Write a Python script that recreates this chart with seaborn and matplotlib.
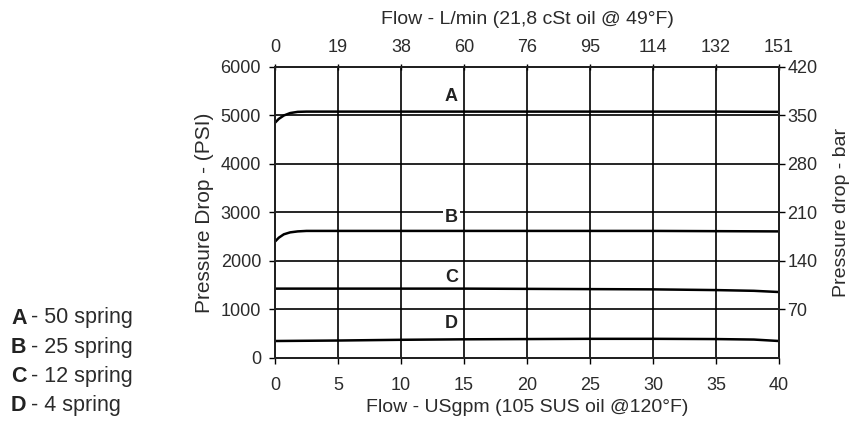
import matplotlib
matplotlib.use("Agg")
import matplotlib.pyplot as plt
import seaborn as sns
import pandas as pd

sns.set_theme(style="white")
plt.rcParams['font.family'] = ['Liberation Sans', 'DejaVu Sans']

# ---- data ----
flow_a = [0, 0.3, 0.7, 1.2, 1.8, 2.5, 5, 10, 15, 20, 25, 30, 35, 40]
psi_a = [4850, 4930, 5000, 5050, 5075, 5080, 5080, 5080, 5080, 5080, 5080, 5080, 5080, 5075]
flow_b = [0, 0.3, 0.7, 1.2, 1.8, 2.5, 5, 10, 15, 20, 25, 30, 35, 40]
psi_b = [2400, 2480, 2550, 2590, 2610, 2620, 2620, 2620, 2620, 2620, 2620, 2620, 2615, 2610]
flow_c = [0, 5, 10, 15, 20, 25, 30, 35, 38, 40]
psi_c = [1430, 1430, 1430, 1430, 1425, 1420, 1415, 1400, 1385, 1360]
flow_d = [0, 5, 10, 15, 20, 25, 30, 35, 38, 40]
psi_d = [350, 360, 375, 385, 390, 395, 395, 390, 380, 350]

curve_names = ["A", "B", "C", "D"]
label_y = [5400, 2900, 1650, 720]
label_x = 14
legend_text = ["50 spring", "25 spring", "12 spring", "4 spring"]

x_ticks = [0, 5, 10, 15, 20, 25, 30, 35, 40]
top_labels = ["0", "19", "38", "60", "76", "95", "114", "132", "151"]
y_ticks = [0, 1000, 2000, 3000, 4000, 5000, 6000]
bar_ticks = [70, 140, 210, 280, 350, 420]

frames = []
for name, fx, fy in zip(curve_names, [flow_a, flow_b, flow_c, flow_d], [psi_a, psi_b, psi_c, psi_d]):
    frames.append(pd.DataFrame({"flow": fx, "psi": fy, "curve": name}))
df = pd.concat(frames, ignore_index=True)

TXT = "#2b2b2b"

fig = plt.figure(figsize=(8.53, 4.24), dpi=100)
ax = fig.add_axes([0.3224, 0.1557, 0.5909, 0.6863])

# grid lines
for xv in x_ticks[1:-1]:
    ax.axvline(xv, color="black", lw=1.2, zorder=1)
for yv in y_ticks[1:-1]:
    ax.axhline(yv, color="black", lw=1.2, zorder=1)

sns.lineplot(data=df, x="flow", y="psi", units="curve", estimator=None,
             color="black", lw=1.8, ax=ax, zorder=3, legend=False)

ax.set_xlim(0, 40)
ax.set_ylim(0, 6000)
ax.set_xticks(x_ticks)
ax.set_yticks(y_ticks)
tick_font = dict(size=13, color=TXT)
ax.set_xticklabels([str(v) for v in x_ticks], **tick_font)
ax.set_yticklabels([str(v) for v in y_ticks], **tick_font)
ax.tick_params(axis="y", direction="out", length=4, width=1, color="black", pad=6)
ax.tick_params(axis="x", direction="out", length=4, width=1, color="black", pad=10)
for s in ax.spines.values():
    s.set_color("black")
    s.set_linewidth(1.2)
ax.set_xlabel("Flow - USgpm (105 SUS oil @120°F)", fontsize=14, color=TXT, labelpad=3)
ax.set_ylabel("Pressure Drop - (PSI)", fontsize=15, color=TXT, labelpad=5)

# curve labels
for name, ly in zip(curve_names, label_y):
    ax.text(label_x, ly, name, fontsize=13, fontweight="bold", ha="center", va="center",
            color="#222222", zorder=4,
            bbox=dict(facecolor="white", edgecolor="none", pad=1.5) if name == "B" else None)

# right axis
axr = ax.twinx()
axr.set_ylim(0, 420)
axr.set_yticks(bar_ticks)
axr.set_yticklabels([str(v) for v in bar_ticks], **tick_font)
axr.tick_params(axis="y", direction="out", length=4, width=1, color="black", pad=2)
axr.set_ylabel("Pressure drop - bar", fontsize=14, color=TXT, labelpad=11)
for s in axr.spines.values():
    s.set_color("black")
    s.set_linewidth(1.2)

# top axis
axt = ax.twiny()
axt.set_xlim(0, 40)
axt.set_xticks(x_ticks)
axt.set_xticklabels(top_labels, **tick_font)
axt.tick_params(axis="x", direction="inout", length=4, width=1, color="black", pad=6)
axt.set_xlabel("Flow - L/min (21,8 cSt oil @ 49°F)", fontsize=14, color=TXT, labelpad=11)

# legend text at left
for i, (name, txt) in enumerate(zip(curve_names, legend_text)):
    yy = 1 - (318 + i * 29.3) / 424
    fig.text(11 / 853, yy, name, fontsize=15.5, fontweight="bold", color="#222222", va="center")
    fig.text(31 / 853, yy, "- " + txt, fontsize=15.5, color=TXT, va="center")

fig.savefig("out.png", dpi=100, facecolor="white")
